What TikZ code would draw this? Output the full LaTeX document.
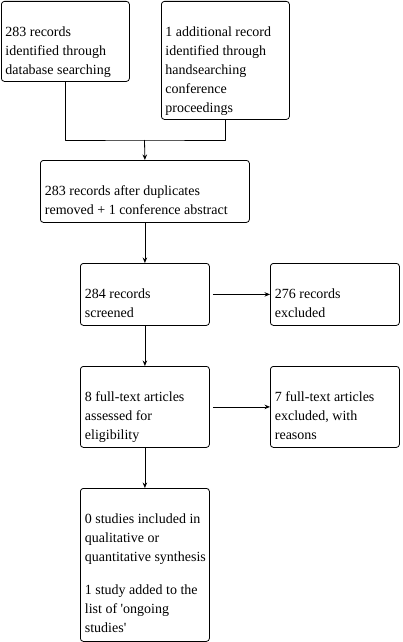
\documentclass[tikz,border=0pt]{standalone}
\usepackage{fontspec}
\setmainfont{Liberation Serif}
\usetikzlibrary{arrows.meta}
\tikzset{
	box/.style={draw, rounded corners=3pt, anchor=north west, inner sep=0pt},
	txt/.style={anchor=north west, inner sep=0pt, align=left, font=\fontsize{14}{19}\selectfont},
}
\begin{document}
\begin{tikzpicture}[x=1pt, y=-1pt, line width=.8pt, line join=round, >={Stealth[length=5.5pt,width=4.5pt]}]
		\useasboundingbox (0,0) rectangle (402,642);
		% boxes: name/left/top/width/height
		\foreach \n/\l/\t/\w/\h in {db/1/1/128/80, hs/161/1/128/118, dup/40/160/209/62, scr/80/263/129/62, exc/270/263/129/62, ft/80/366/129/81, ftx/270/366/129/81, inc/80/488/129/153}
		\node[box, minimum width=\w pt, minimum height=\h pt] (\n) at (\l,\t) {};
		% texts
		\node[txt] (tdb) at ([shift={(4pt,-21.7pt)}]db.north west) {\strut 283 records\\identified through\\database searching};
		\node[txt] (ths) at ([shift={(4pt,-21.7pt)}]hs.north west) {\strut 1 additional record\\identified through\\handsearching\\conference\\proceedings};
		\node[txt] (tdup) at ([shift={(4.5pt,-21.7pt)}]dup.north west) {\strut 283 records after duplicates\\removed + 1 conference abstract};
		\node[txt] (tscr) at ([shift={(4.5pt,-21.7pt)}]scr.north west) {\strut 284 records\\screened};
		\node[txt] (texc) at ([shift={(4.5pt,-21.7pt)}]exc.north west) {\strut 276 records\\excluded};
		\node[txt] (tft) at ([shift={(4.5pt,-21.7pt)}]ft.north west) {\strut 8 full-text articles\\assessed for\\eligibility};
		\node[txt] (tftx) at ([shift={(4.5pt,-21.7pt)}]ftx.north west) {\strut 7 full-text articles\\excluded, with\\reasons};
		\node[txt] (tinc) at ([shift={(4.5pt,-21.7pt)}]inc.north west) {\strut 0 studies included in\\qualitative or\\quantitative synthesis\\[14pt]1 study added to the\\list of \textquotesingle ongoing\\studies\textquotesingle};
		% connectors
		\coordinate (m) at (144.5,140);
		\draw (db.south) |- (m) -| (hs.south);
		\draw[->] (m) -- (dup.north);
		\draw[->] (dup.south) -- (scr.north);
		\draw[->] (scr.south) -- (ft.north);
		\draw[->] (ft.south) -- (inc.north);
		\draw[->, shorten <=3pt] (scr.east) -- (exc.west);
		\draw[->, shorten <=3pt] (ft.east) -- (ftx.west);
\end{tikzpicture}
\end{document}
